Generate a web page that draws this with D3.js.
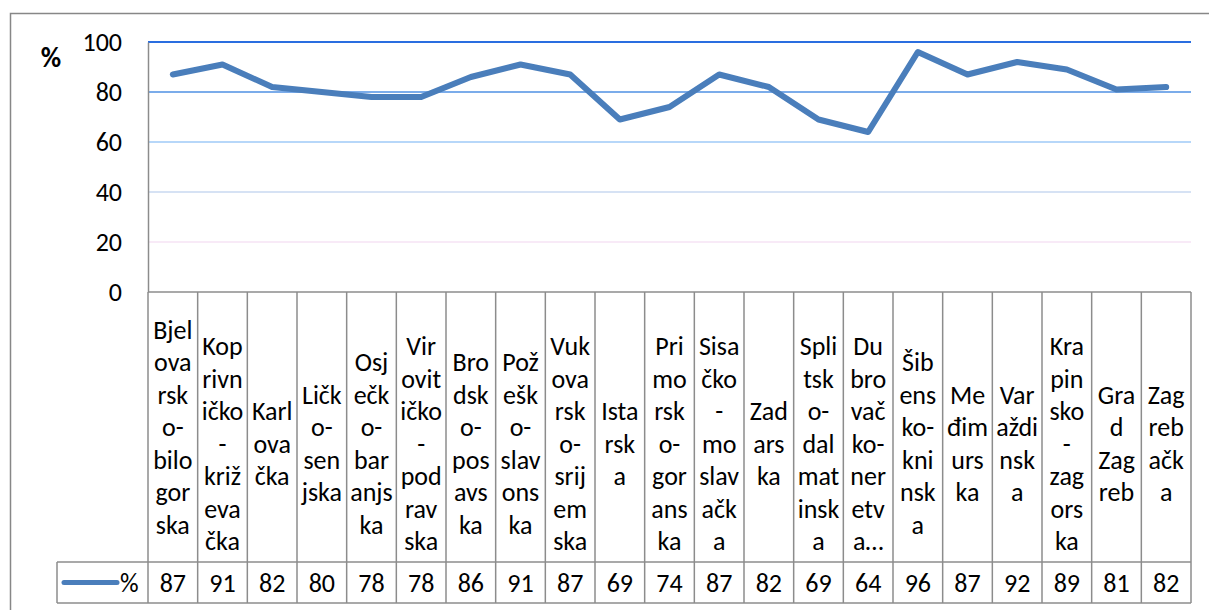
<!DOCTYPE html>
<html>
<head>
<meta charset="utf-8">
<script src="https://cdn.jsdelivr.net/npm/d3@7"></script>
<style>
  html, body { margin: 0; padding: 0; background: #fff; }
  svg { display: block; }
  text { font-family: Carlito, Calibri, Lato, "Open Sans", sans-serif; fill: #000; }
</style>
</head>
<body>
<div id="chart"></div>
<script>
// category labels, already wrapped the way the source table shows them
const categories = [
  ["Bjel", "ova", "rsk", "o-", "bilo", "gor", "ska", ""],
  ["Kop", "rivn", "ičko", "-", "križ", "eva", "čka"],
  ["Karl", "ova", "čka"],
  ["Ličk", "o-", "sen", "jska"],
  ["Osj", "ečk", "o-", "bar", "anjs", "ka"],
  ["Vir", "ovit", "ičko", "-", "pod", "rav", "ska"],
  ["Bro", "dsk", "o-", "pos", "avs", "ka"],
  ["Pož", "ešk", "o-", "slav", "ons", "ka"],
  ["Vuk", "ova", "rsk", "o-", "srij", "em", "ska"],
  ["Ista", "rsk", "a"],
  ["Pri", "mo", "rsk", "o-", "gor", "ans", "ka"],
  ["Sisa", "čko", "-", "mo", "slav", "ačk", "a"],
  ["Zad", "ars", "ka"],
  ["Spli", "tsk", "o-", "dal", "mat", "insk", "a"],
  ["Du", "bro", "vač", "ko-", "ner", "etv", "a…"],
  ["Šib", "ens", "ko-", "kni", "nsk", "a"],
  ["Me", "đim", "urs", "ka"],
  ["Var", "aždi", "nsk", "a"],
  ["Kra", "pin", "sko", "-", "zag", "ors", "ka"],
  ["Gra", "d", "Zag", "reb"],
  ["Zag", "reb", "ačk", "a"]
];
const values = [87, 91, 82, 80, 78, 78, 86, 91, 87, 69, 74, 87, 82, 69, 64, 96, 87, 92, 89, 81, 82];
const yTicks = [0, 20, 40, 60, 80, 100];
const gridColors = ["none", "#f6e3f4", "#c9d9f0", "#9fcaf7", "#4f91e3", "#2a6ee0"];
const seriesName = "%";

const width = 1209, height = 610;
const plot = { left: 148, right: 1191, top: 42, bottom: 292 };
const table = { legendLeft: 57, headBottom: 562, bottom: 603 };
const fontSize = 26;
const lineStep = 32.5;
const gridGray = "#8c8c8c";
const lineColor = "#4a7ebb";

const svg = d3.select("#chart").append("svg")
  .attr("width", width)
  .attr("height", height);

// outer chart frame
svg.append("path")
  .attr("d", `M10.5,${height} V13.5 H${width}`)
  .attr("fill", "none")
  .attr("stroke", "#878787")
  .attr("stroke-width", 1.5);

const x = d3.scaleBand()
  .domain(d3.range(values.length))
  .range([plot.left, plot.right]);

const y = d3.scaleLinear()
  .domain([0, 100])
  .range([plot.bottom, plot.top]);

// gridlines
svg.append("g")
  .selectAll("line")
  .data(yTicks.filter(d => d > 0))
  .join("line")
    .attr("x1", plot.left)
    .attr("x2", plot.right)
    .attr("y1", d => y(d))
    .attr("y2", d => y(d))
    .attr("stroke", d => gridColors[yTicks.indexOf(d)])
    .attr("stroke-width", d => d === 100 ? 2 : 1.6);

// y axis
const yAxis = svg.append("g")
  .attr("transform", `translate(${plot.left},0)`)
  .call(d3.axisLeft(y).tickValues(yTicks).tickSize(0).tickPadding(26));
yAxis.select(".domain").attr("stroke", gridGray).attr("stroke-width", 1.5);
yAxis.selectAll(".tick text")
  .attr("font-size", fontSize)
  .attr("font-family", null)
  .attr("fill", "#000");

svg.append("text")
  .attr("x", 51)
  .attr("y", 57)
  .attr("text-anchor", "middle")
  .attr("dominant-baseline", "central")
  .attr("font-size", 28)
  .attr("font-weight", "bold")
  .text("%");

// data table grid
const grid = svg.append("g")
  .attr("stroke", gridGray)
  .attr("stroke-width", 1.5)
  .attr("fill", "none");

grid.append("line")
  .attr("x1", plot.left).attr("x2", plot.right)
  .attr("y1", plot.bottom).attr("y2", plot.bottom);
grid.append("line")
  .attr("x1", table.legendLeft).attr("x2", plot.right)
  .attr("y1", table.headBottom).attr("y2", table.headBottom);
grid.append("line")
  .attr("x1", table.legendLeft).attr("x2", plot.right)
  .attr("y1", table.bottom).attr("y2", table.bottom);
grid.append("line")
  .attr("x1", table.legendLeft).attr("x2", table.legendLeft)
  .attr("y1", table.headBottom).attr("y2", table.bottom);

grid.selectAll("line.col")
  .data(d3.range(values.length + 1))
  .join("line")
    .attr("class", "col")
    .attr("x1", i => i < values.length ? x(i) : plot.right)
    .attr("x2", i => i < values.length ? x(i) : plot.right)
    .attr("y1", plot.bottom)
    .attr("y2", table.bottom);

// category header cells
const headCenter = 443.5;
const heads = svg.append("g")
  .selectAll("text")
  .data(categories)
  .join("text")
    .attr("text-anchor", "middle")
    .attr("font-size", fontSize);

heads.each(function(lines, i) {
  const cx = x(i) + x.bandwidth() / 2;
  const first = headCenter - (lines.length - 1) * lineStep / 2;
  d3.select(this).selectAll("tspan")
    .data(lines)
    .join("tspan")
      .attr("x", cx)
      .attr("y", (d, k) => first + k * lineStep)
      .attr("dominant-baseline", "central")
      .text(d => d);
});

// value row
const rowCenter = (table.headBottom + table.bottom) / 2;
svg.append("g")
  .selectAll("text")
  .data(values)
  .join("text")
    .attr("x", (d, i) => x(i) + x.bandwidth() / 2)
    .attr("y", rowCenter)
    .attr("text-anchor", "middle")
    .attr("dominant-baseline", "central")
    .attr("font-size", fontSize)
    .text(d => d);

// legend key in the table
svg.append("line")
  .attr("x1", 64).attr("x2", 117)
  .attr("y1", rowCenter).attr("y2", rowCenter)
  .attr("stroke", lineColor)
  .attr("stroke-width", 5)
  .attr("stroke-linecap", "round");
svg.append("text")
  .attr("x", 120)
  .attr("y", rowCenter)
  .attr("dominant-baseline", "central")
  .attr("font-size", fontSize)
  .text(seriesName);

// series line
const line = d3.line()
  .x((d, i) => x(i) + x.bandwidth() / 2)
  .y(d => y(d));

svg.append("path")
  .datum(values)
  .attr("d", line)
  .attr("fill", "none")
  .attr("stroke", lineColor)
  .attr("stroke-width", 6)
  .attr("stroke-linejoin", "round")
  .attr("stroke-linecap", "round");
</script>
</body>
</html>
